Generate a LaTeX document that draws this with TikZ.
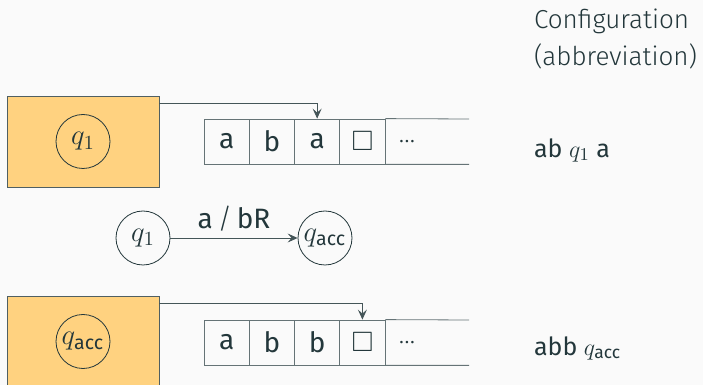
\documentclass[tikz,border=0pt]{standalone}
\usepackage{amssymb}
\usepackage{amsmath}
\usepackage{fontspec}
\setmainfont{Fira Sans}
\newfontfamily\lightfont{Fira Sans Light}
\usetikzlibrary{positioning, calc, arrows.meta}

\definecolor{fg}{HTML}{23373B}
\definecolor{ctrlfill}{HTML}{FFD280}
\definecolor{bg}{HTML}{FAFAFA}

\begin{document}
\begin{tikzpicture}[x=0.5pt, y=-0.5pt, every node/.style={text=fg},
  state/.style={circle, draw=fg, minimum size=27pt, inner sep=0pt, font=\fontsize{14}{16}\selectfont},
  ctrl/.style={rectangle, draw=fg!80, fill=ctrlfill, minimum width=76pt, minimum height=45.5pt},
  cell/.style={rectangle, draw=fg!70, minimum width=22.6pt, minimum height=22.5pt, inner sep=0pt, font=\fontsize{14}{16}\selectfont},
  conf/.style={anchor=west, align=left, font=\fontsize{12.5}{18.5}\selectfont},
  dots/.style={inner sep=0pt, font=\lightfont\fontsize{13}{15}\selectfont},
  head/.style={draw=fg!85, -{Stealth[length=5pt, width=4.5pt, inset=2pt]}}]
\fill[bg] (0,0) rectangle (703,385);
\clip (0,0) rectangle (703,385);

% top machine: head on the third cell
\node[ctrl] (box1) at (83,141.5) {};
\node[state] (s1) at (box1) {$q_1$};
\foreach \c [count=\i] in {a,b,a,$\square$}
  \node[cell] (top\i) at (181.4+45.25*\i,141.5) {\c};
\node[dots] (top dots) at (407,141.5) {\dots};
\coordinate (top end) at (469,119);
\draw[fg!70] (top4.north east) -- (top end)
  (top4.south east) -- (top end |- top4.south);
\draw[head] ($(box1.north east)+(0,8)$) -| (top3.north);

% the transition
\node[state] (m1) at (143,238) {$q_1$};
\node[state] (macc) at (325,238) {$q_{\text{acc}}$};
\draw[head] (m1) -- node[above, font=\fontsize{14}{16}\selectfont] (rule) {a\,{\lightfont/}\,bR} (macc);

% bottom machine: head on the fourth cell
\node[ctrl] (box2) at (83,341.5) {};
\node[state] (s2) at (box2) {$q_{\text{acc}}$};
\foreach \c [count=\i] in {a,b,b,$\square$}
  \node[cell] (bot\i) at (181.4+45.25*\i,342.5) {\c};
\node[dots] (bot dots) at (407,342.5) {\dots};
\coordinate (bot end) at (469,320);
\draw[fg!70] (bot4.north east) -- (bot end)
  (bot4.south east) -- (bot end |- bot4.south);
\draw[head] ($(box2.north east)+(0,8)$) -| (bot4.north);

% configurations
\node[conf, font=\lightfont\fontsize{13}{18.5}\selectfont] (hdr) at (527,38.5) {Configuration\\(abbreviation)};
\node[conf] (conf1) at (527,150) {ab $q_1$ a};
\node[conf] (conf2) at (527,348) {abb $q_{\text{acc}}$};
\end{tikzpicture}
\end{document}
